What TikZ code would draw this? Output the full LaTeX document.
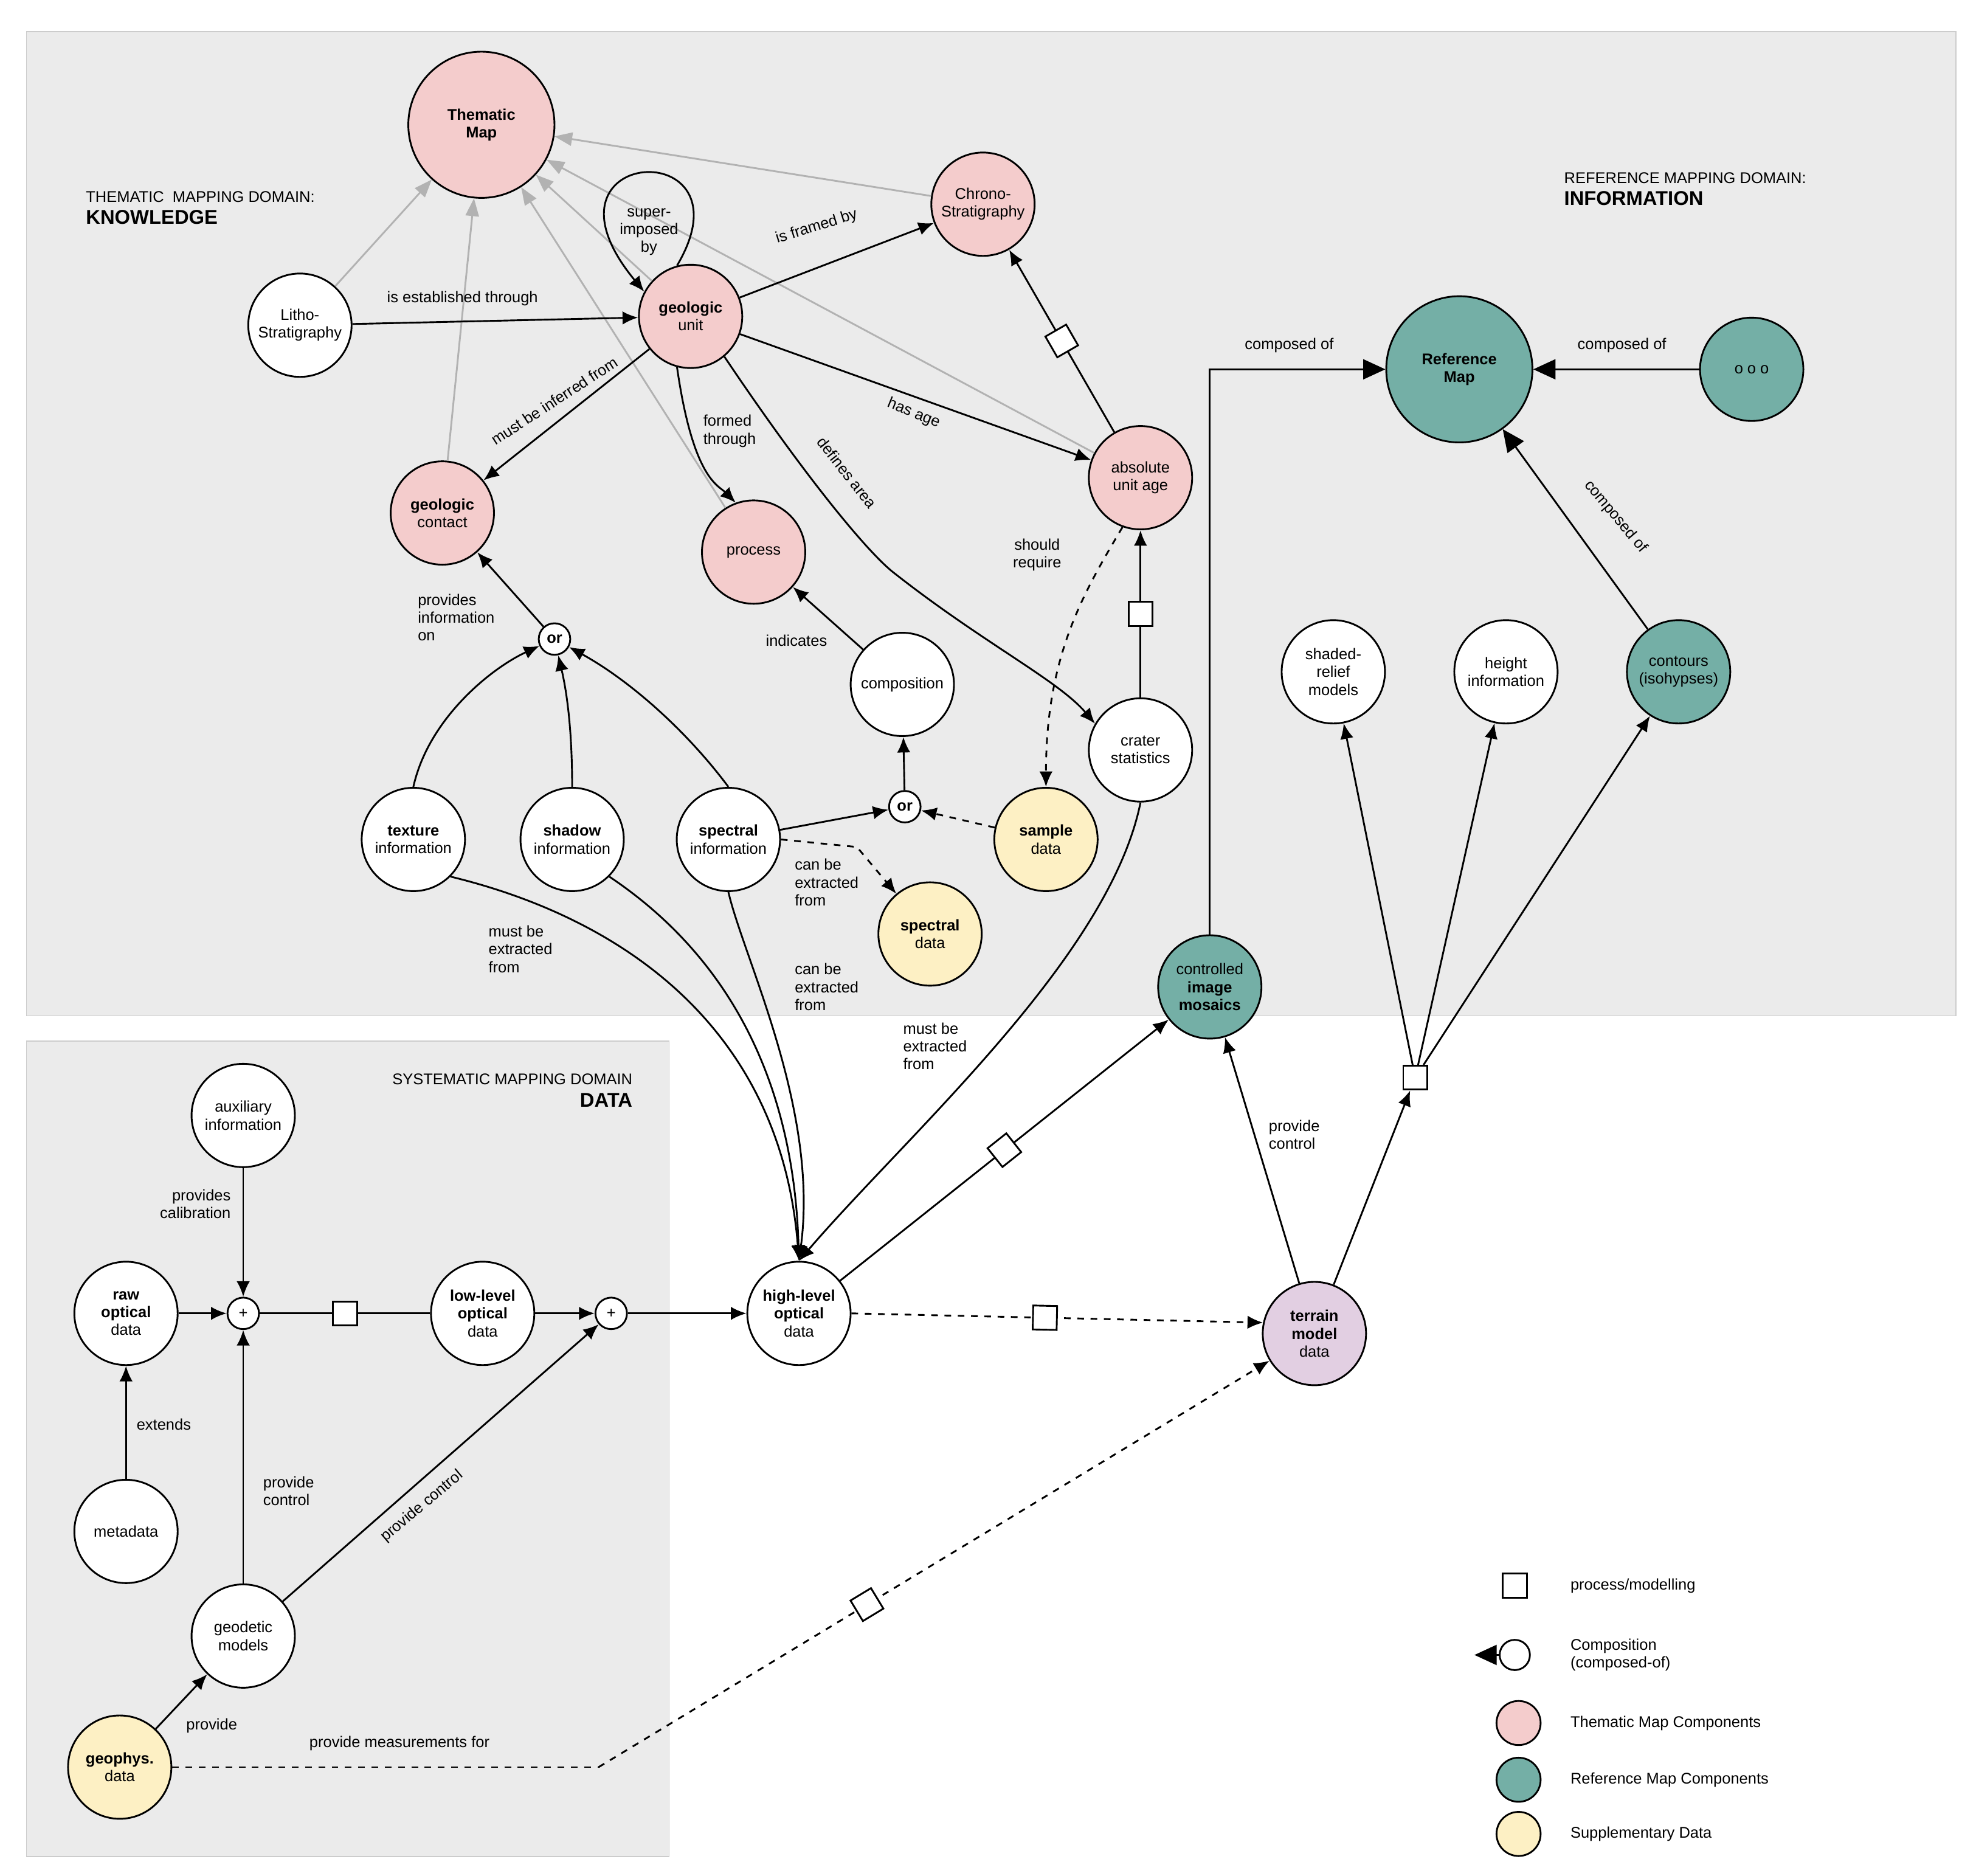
\documentclass[tikz,border=0pt]{standalone}
\usepackage{fontspec}
\setmainfont{Liberation Sans}
\usetikzlibrary{arrows.meta,shapes.geometric}
\definecolor{pinkc}{HTML}{F4CCCC}
\definecolor{tealc}{HTML}{74AFA6}
\definecolor{yelc}{HTML}{FDF0C4}
\definecolor{purc}{HTML}{E2CFE2}
\definecolor{panel}{HTML}{EBEBEB}
\newcommand{\fs}{\fontsize{7}{8}\selectfont}
\newcommand{\hfs}{\fontsize{9}{11}\selectfont\bfseries}
\tikzset{
 c/.style={circle,draw,thick,fill=white,minimum size=1.64cm,inner sep=0pt,align=center,font=\fs},
 big/.style={c,minimum size=2.32cm},
 sm/.style={circle,draw,thick,fill=white,minimum size=0.5cm,inner sep=0pt,font=\fs\bfseries},
 sq/.style={draw,thick,solid,fill=white,minimum size=0.38cm,inner sep=0pt,sloped},
 lb/.style={font=\fs,align=left},
 ar/.style={thick,-{Latex[length=7pt,width=6pt]}},
 da/.style={ar,dashed},
 gr/.style={gray!60,thick,-{Triangle[length=8pt,width=6pt]}},
 comp/.style={thick,-{Triangle[length=10pt,width=9pt]}},
}
\begin{document}
\begin{tikzpicture}[x=0.02cm,y=-0.02cm]
\useasboundingbox (0,0) rectangle (1568,1488);
\fill[panel,draw=gray!40] (21,25) rectangle (1552,806);
\fill[panel,draw=gray!40] (21,826) rectangle (531,1473);
\node[lb,anchor=west] (h1) at (62,165) {THEMATIC\ \ MAPPING DOMAIN:\\[2pt]{\hfs KNOWLEDGE}};
\node[lb,anchor=west] (h2) at (1235,150) {REFERENCE MAPPING DOMAIN:\\[2pt]{\hfs INFORMATION}};
\node[lb,anchor=east,align=right] (h3) at (508,865) {SYSTEMATIC MAPPING DOMAIN\\[2pt]{\hfs DATA}};
% nodes
\node[big,fill=pinkc] (tm) at (382,99) {\textbf{Thematic}\\\textbf{Map}};
\node[c,fill=pinkc] (cs) at (780,162) {Chrono-\\Stratigraphy};
\node[c] (ls) at (238,258) {Litho-\\Stratigraphy};
\node[c,fill=pinkc] (gu) at (548,251) {\textbf{geologic}\\unit};
\node[c,fill=pinkc] (gc) at (351,407) {\textbf{geologic}\\contact};
\node[c,fill=pinkc] (pr) at (598,438) {process};
\node[c,fill=pinkc] (au) at (905,379) {absolute\\unit age};
\node[c] (co) at (716,543) {composition};
\node[c] (cr) at (905,595) {crater\\statistics};
\node[sm] (or1) at (440,507) {or};
\node[sm] (or2) at (718,640) {or};
\node[c] (tx) at (328,666) {\textbf{texture}\\information};
\node[c] (sh) at (454,666) {\textbf{shadow}\\information};
\node[c] (sp) at (578,666) {\textbf{spectral}\\information};
\node[c,fill=yelc] (sa) at (830,666) {\textbf{sample}\\data};
\node[c,fill=yelc] (sd) at (738,741) {\textbf{spectral}\\data};
\node[c,fill=tealc] (cim) at (960,783) {controlled\\\textbf{image}\\\textbf{mosaics}};
\node[big,fill=tealc] (rm) at (1158,293) {\textbf{Reference}\\\textbf{Map}};
\node[c,fill=tealc] (oo) at (1390,293) {o o o};
\node[c] (sr) at (1058,533) {shaded-\\relief\\models};
\node[c] (hi) at (1195,533) {height\\information};
\node[c,fill=tealc] (ct) at (1332,533) {contours\\(isohypses)};
\node[sq] (s4) at (1123,855) {};
\node[c] (ax) at (193,885) {auxiliary\\information};
\node[c] (ro) at (100,1042) {\textbf{raw}\\\textbf{optical}\\data};
\node[sm,font=\fs] (p1) at (193,1042) {+};
\node[c] (ll) at (383,1042) {\textbf{low-level}\\\textbf{optical}\\data};
\node[sm,font=\fs] (p2) at (485,1042) {+};
\node[c] (hl) at (634,1042) {\textbf{high-level}\\\textbf{optical}\\data};
\node[c,fill=purc] (te) at (1043,1058) {\textbf{terrain}\\\textbf{model}\\data};
\node[c] (md) at (100,1215) {metadata};
\node[c] (gm) at (193,1298) {geodetic\\models};
\node[c,fill=yelc] (gp) at (95,1402) {\textbf{geophys.}\\data};
\coordinate (bend) at (475,1402);
% gray lines
\foreach \n in {cs,gu,au,gc,ls,pr} \draw[gr] (\n) -- (tm);
% knowledge edges
\draw[ar] (ls) -- (gu);
\node[lb] (l1) at (367,237) {is established through};
\draw[ar] (gu) -- (cs);
\node[lb,rotate=17] (l2) at (648,180) {is framed by};
\draw[ar] (gu.105) .. controls (600,105) and (415,115) .. (gu.152);
\node[lb,align=center] (l3) at (515,184) {super-\\imposed\\by};
\draw[ar] (gu) -- (gc);
\node[lb,rotate=33] (l4) at (440,318) {must be inferred from};
\draw[ar] (gu.255) .. controls (550,380) and (570,385) .. (pr.110);
\node[lb] (l5) at (579,342) {formed\\through};
\draw[ar] (gu.310) .. controls (640,380) and (690,440) .. (710,455) .. controls (780,510) and (840,540) .. (cr.150);
\node[lb,rotate=-52] (l6) at (672,375) {defines area};
\draw[ar] (gu) -- (au);
\node[lb,rotate=-22] (l7) at (725,328) {has age};
\draw[ar] (au) -- node[sq]{} (cs);
\draw[da] (au.250) .. controls (860,470) and (830,520) .. (sa.north);
\node[lb,align=center] (l8) at (823,440) {should\\require};
\draw[ar] (cr) -- node[sq]{} (au);
\draw[ar] (co) -- (pr);
\node[lb] (l9) at (632,508) {indicates};
\draw[ar] (or2) -- (co);
\draw[ar] (sp) -- (or2);
\draw[da] (sa) -- (or2);
\draw[da] (sp.east) -- (680,672) -- (sd.130);
\node[lb] (l10) at (656,700) {can be\\extracted\\from};
\draw[ar] (tx.north) .. controls (340,570) and (390,530) .. (or1);
\draw[ar] (sh.north) .. controls (454,580) and (450,550) .. (or1);
\draw[ar] (sp.north) .. controls (545,580) and (500,540) .. (or1);
\draw[ar] (or1) -- (gc);
\node[lb] (l11) at (362,490) {provides\\information\\on};
% extraction
\draw[ar] (tx.south east) .. controls (500,730) and (620,820) .. (hl.north);
\node[lb] (l12) at (413,753) {must be\\extracted\\from};
\draw[ar] (sh.south east) .. controls (580,760) and (630,860) .. (hl.north);
\draw[ar] (sp.south) .. controls (590,760) and (650,880) .. (hl.north);
\node[lb] (l13) at (656,783) {can be\\extracted\\from};
\draw[ar] (cr.south) .. controls (880,760) and (720,900) .. (hl.north);
\node[lb] (l14) at (742,830) {must be\\extracted\\from};
% reference
\draw[ar] (hl) -- node[sq]{} (cim);
\draw[comp] (cim.north) |- (rm);
\node[lb] (l15) at (1023,274) {composed of};
\draw[comp] (oo) -- (rm);
\node[lb] (l16) at (1287,274) {composed of};
\draw[comp] (ct) -- (rm);
\node[lb,rotate=-50] (l17) at (1282,410) {composed of};
\draw[ar] (te) -- (cim);
\node[lb] (l18) at (1027,900) {provide\\control};
\draw[ar] (te) -- (s4);
\draw[ar] (s4) -- (sr);
\draw[ar] (s4) -- (hi);
\draw[ar] (s4) -- (ct);
\draw[da] (hl.east) -- node[sq,pos=0.47]{} (te.168);
% data
\draw[ar] (ax) -- (p1);
\node[lb,align=right] (l19) at (155,955) {provides\\calibration};
\draw[ar] (ro) -- (p1);
\draw[thick] (p1) -- node[sq]{} (ll);
\draw[ar] (ll) -- (p2);
\draw[ar] (p2) -- (hl);
\draw[ar] (md) -- (ro);
\node[lb] (l20) at (130,1130) {extends};
\draw[ar] (gm) -- (p1);
\node[lb] (l21) at (229,1183) {provide\\control};
\draw[ar] (gm) -- (p2);
\node[lb,rotate=40] (l22) at (335,1195) {provide control};
\draw[ar] (gp) -- (gm);
\node[lb] (l23) at (168,1369) {provide};
\draw[thick,dashed] (gp) -- (bend);
\draw[da] (bend) -- node[sq,pos=0.4]{} (te);
\node[lb] (l24) at (317,1383) {provide measurements for};
% legend
\node[sq,sloped=false] (k1) at (1202,1258) {};
\node[lb,anchor=west] (t1) at (1240,1258) {process/modelling};
\node[circle,draw,thick,fill=white,minimum size=0.48cm] (k2) at (1202,1313) {};
\coordinate (k2t) at (1170,1313);
\draw[comp] (k2) -- (k2t);
\node[lb,anchor=west] (t2) at (1240,1313) {Composition\\(composed-of)};
\node[circle,draw,thick,fill=pinkc,minimum size=0.7cm] (k3) at (1205,1367) {};
\node[lb,anchor=west] (t3) at (1240,1367) {Thematic Map Components};
\node[circle,draw,thick,fill=tealc,minimum size=0.7cm] (k4) at (1205,1412) {};
\node[lb,anchor=west] (t4) at (1240,1412) {Reference Map Components};
\node[circle,draw,thick,fill=yelc,minimum size=0.7cm] (k5) at (1205,1455) {};
\node[lb,anchor=west] (t5) at (1240,1455) {Supplementary Data};
\end{tikzpicture}
\end{document}
